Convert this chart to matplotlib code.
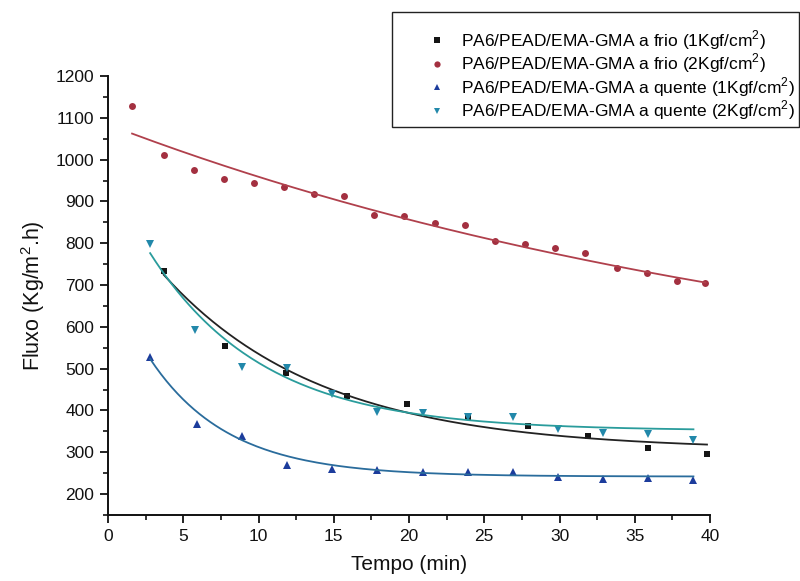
import numpy as np
import matplotlib
matplotlib.use("Agg")
import matplotlib.pyplot as plt
from matplotlib.patches import Rectangle
from matplotlib.ticker import MultipleLocator

plt.rcParams['font.family'] = ['Liberation Sans', 'DejaVu Sans']
plt.rcParams['mathtext.fontset'] = 'custom'
plt.rcParams['mathtext.rm'] = 'Liberation Sans'

# Permeate flux measurements (time in min, flux in Kg/m2.h)
t_frio_1 = [3.7, 7.8, 11.8, 15.9, 19.9, 23.9, 27.9, 31.9, 35.9, 39.8]
f_frio_1 = [734, 554, 490, 435, 416, 384, 364, 339, 310, 297]

t_frio_2 = [1.6, 3.7, 5.7, 7.7, 9.7, 11.7, 13.7, 15.7, 17.7, 19.7,
            21.7, 23.7, 25.7, 27.7, 29.7, 31.7, 33.8, 35.8, 37.8, 39.7]
f_frio_2 = [1128, 1010, 974, 953, 944, 934, 918, 914, 867, 864,
            848, 843, 805, 799, 788, 776, 741, 729, 710, 705]

t_quente_1 = [2.8, 5.9, 8.9, 11.9, 14.9, 17.9, 20.9, 23.9, 26.9, 29.9, 32.9, 35.9, 38.9]
f_quente_1 = [529, 368, 340, 270, 260, 258, 252, 252, 252, 240, 237, 238, 233]

t_quente_2 = [2.8, 5.8, 8.9, 11.9, 14.9, 17.9, 20.9, 23.9, 26.9, 29.9, 32.9, 35.9, 38.9]
f_quente_2 = [798, 593, 504, 502, 440, 397, 393, 385, 384, 356, 347, 343, 329]

# Exponential decay fits: y = y0 + A * exp(-t / tau)
fit_frio_1 = (305, 597, 10.5)
fit_frio_2 = (394, 690, 50.0)
fit_quente_1 = (242, 482, 5.2)
fit_quente_2 = (351.5, 617, 7.5)

labels = [
    r"PA6/PEAD/EMA-GMA a frio (1Kgf/cm$^2$)",
    r"PA6/PEAD/EMA-GMA a frio (2Kgf/cm$^2$)",
    r"PA6/PEAD/EMA-GMA a quente (1Kgf/cm$^2$)",
    r"PA6/PEAD/EMA-GMA a quente (2Kgf/cm$^2$)",
]


def decay(t, p):
    y0, a, tau = p
    return y0 + a * np.exp(-np.asarray(t) / tau)


W, H = 800, 581
fig = plt.figure(figsize=(W / 100, H / 100), dpi=100)
ax = fig.add_axes([108 / W, 1 - 515 / H, (710 - 108) / W, (515 - 76) / H])

series = [
    (t_frio_1, f_frio_1, fit_frio_1, 's', '#151515', '#222222', 4.2),
    (t_frio_2, f_frio_2, fit_frio_2, 'o', '#a33040', '#b0404c', 5.0),
    (t_quente_1, f_quente_1, fit_quente_1, '^', '#1c3c9c', '#2a6c9c', 5.2),
    (t_quente_2, f_quente_2, fit_quente_2, 'v', '#2288aa', '#2a9c9c', 5.2),
]

handles = []
for (t, f, p, mk, mc, lc, ms), lab in zip(series, labels):
    h, = ax.plot(t, f, linestyle='none', marker=mk, color=mc, markersize=ms,
                 markeredgewidth=0, label=lab, clip_on=False)
    handles.append(h)
    tt = np.linspace(min(t), max(t), 200)
    ax.plot(tt, decay(tt, p), color=lc, linewidth=1.3)

ax.set_xlim(0, 40)
ax.set_ylim(150, 1200)
ax.xaxis.set_major_locator(MultipleLocator(5))
ax.xaxis.set_minor_locator(MultipleLocator(2.5))
ax.yaxis.set_minor_locator(MultipleLocator(50))
ax.set_yticks(np.arange(200, 1201, 100))

for s in ('top', 'right'):
    ax.spines[s].set_visible(False)
for s in ('left', 'bottom'):
    ax.spines[s].set_linewidth(1.4)
    ax.spines[s].set_color('#111111')

ax.tick_params(which='major', direction='out', length=6, width=1.3,
               labelsize=12.5, colors='#111111', pad=4)
ax.tick_params(which='minor', direction='out', length=3.5, width=1.2,
               colors='#111111')

ax.set_xlabel("Tempo (min)", fontsize=15, labelpad=8, color='#111111')
ax.set_ylabel(r"Fluxo (Kg/m$^2$.h)", fontsize=15.5, labelpad=6, color='#111111')

# Legend box
fig.patches.append(Rectangle((392 / W, 1 - 127 / H), (799 - 392) / W, (127 - 12) / H,
                             transform=fig.transFigure, fill=False,
                             edgecolor='#222222', linewidth=1.0))
leg = fig.legend(handles=handles, loc='upper left',
                 bbox_to_anchor=(428 / W, 1 - 28 / H),
                 fontsize=12.5, frameon=False, borderpad=0,
                 handlelength=1.0, handletextpad=0.9, labelspacing=0.0,
                 markerscale=0.9, borderaxespad=0)

fig.savefig("out.png", dpi=100)
